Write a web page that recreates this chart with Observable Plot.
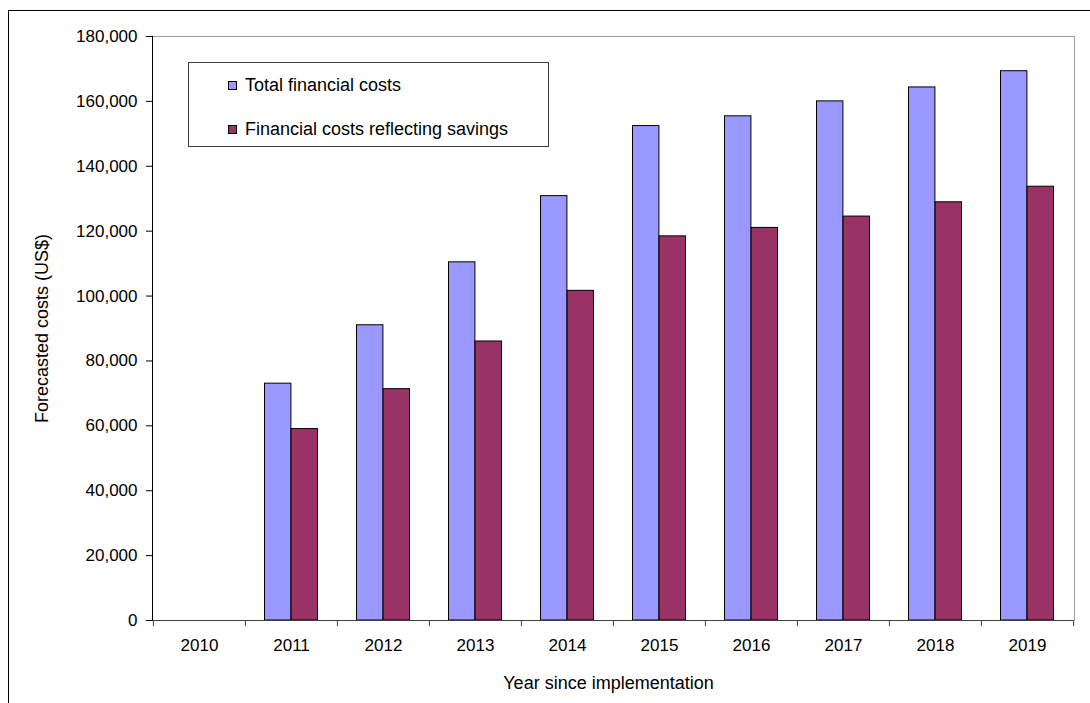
<!DOCTYPE html>
<html>
<head>
<meta charset="utf-8">
<script src="https://cdn.jsdelivr.net/npm/d3@7"></script>
<script src="https://cdn.jsdelivr.net/npm/@observablehq/plot@0.6"></script>
<style>
  html, body { margin: 0; padding: 0; background: #fff; }
  #wrap { position: relative; width: 1090px; height: 703px; overflow: hidden; font-family: "Liberation Sans", Arial, sans-serif; }
  #outer { position: absolute; left: 8px; top: 10px; width: 2000px; height: 2000px; border-left: 1px solid #000; border-top: 1px solid #000; pointer-events: none; }
  #legend { position: absolute; left: 188px; top: 62px; width: 359px; height: 83px; border: 1px solid #404040; background: #fff; }
  .item { position: absolute; left: 39px; height: 20px; display: flex; align-items: center; font-size: 18px; color: #000; white-space: nowrap; }
  .sw { width: 7px; height: 7px; border: 1px solid #000; margin-right: 8px; }
  svg { position: absolute; left: 0; top: 0; }
</style>
</head>
<body>
<div id="wrap"></div>
<script>
// ---- data ----
const years = [2010, 2011, 2012, 2013, 2014, 2015, 2016, 2017, 2018, 2019];
const totalCosts = [null, 73000, 91000, 110400, 130800, 152400, 155400, 160000, 164300, 169300];
const savingsCosts = [null, 59000, 71300, 86000, 101600, 118400, 121000, 124500, 128900, 133700];
const seriesNames = ["Total financial costs", "Financial costs reflecting savings"];
const seriesColors = ["#9999ff", "#993366"];
const yTicks = [0, 20000, 40000, 60000, 80000, 100000, 120000, 140000, 160000, 180000];
const xTitle = "Year since implementation";
const yTitle = "Forecasted costs (US$)";

// ---- layout ----
const W = 1090, H = 703;
const mL = 152, mR = 16, mT = 36, mB = 83;
const bw = (W - mL - mR) / years.length;
const barW = 26.6;
const outerGap = (bw - 2 * barW) / 2;

const rows = years.map((year, i) => ({year, total: totalCosts[i], savings: savingsCosts[i]}));

const chart = Plot.plot({
  width: W,
  height: H,
  marginLeft: mL, marginRight: mR, marginTop: mT, marginBottom: mB,
  style: {fontFamily: "'Liberation Sans', Arial, sans-serif", fontSize: "17px", background: "transparent", color: "#000"},
  x: {domain: years, padding: 0, label: null},
  y: {domain: [0, 180000], label: null},
  marks: [
    Plot.frame({stroke: "#a0a0a0"}),
    Plot.barY(rows.filter(d => d.total != null), {
      x: "year", y: "total", fill: seriesColors[0], stroke: "#000", strokeWidth: 1,
      insetLeft: outerGap, insetRight: bw - outerGap - barW
    }),
    Plot.barY(rows.filter(d => d.savings != null), {
      x: "year", y: "savings", fill: seriesColors[1], stroke: "#000", strokeWidth: 1,
      insetLeft: outerGap + barW, insetRight: outerGap
    }),
    Plot.ruleY([0], {stroke: "#404040"}),
    Plot.frame({anchor: "left", stroke: "#000"}),
    Plot.axisY({ticks: yTicks, tickFormat: d3.format(","), tickSize: 6, tickPadding: 9, label: null, fontSize: 17}),
    Plot.axisX({tickSize: 0, tickPadding: 18, tickFormat: d => String(d), label: null, fontSize: 17}),
    Plot.axisX({ticks: years, tickSize: 6, tickFormat: () => "", label: null, dx: -bw / 2, stroke: "#404040"}),
    Plot.axisX({ticks: [years[years.length - 1]], tickSize: 6, tickFormat: () => "", label: null, dx: bw / 2, stroke: "#404040"}),
    Plot.text([xTitle], {text: d => d, frameAnchor: "bottom", textAnchor: "middle", lineAnchor: "middle", dy: 63, dx: -5, fontSize: 18}),
    Plot.text([yTitle], {text: d => d, frameAnchor: "left", textAnchor: "middle", lineAnchor: "middle", dx: -110, rotate: -90, fontSize: 18})
  ]
});

const wrap = document.getElementById("wrap");
wrap.appendChild(chart);

const outer = document.createElement("div");
outer.id = "outer";
wrap.appendChild(outer);

const legend = document.createElement("div");
legend.id = "legend";
const centers = [22, 66];
seriesNames.forEach((name, i) => {
  const it = document.createElement("div");
  it.className = "item";
  it.style.top = (centers[i] - 10) + "px";
  const sw = document.createElement("span");
  sw.className = "sw";
  sw.style.background = seriesColors[i];
  const tx = document.createElement("span");
  tx.textContent = name;
  it.appendChild(sw);
  it.appendChild(tx);
  legend.appendChild(it);
});
wrap.appendChild(legend);
</script>
</body>
</html>
